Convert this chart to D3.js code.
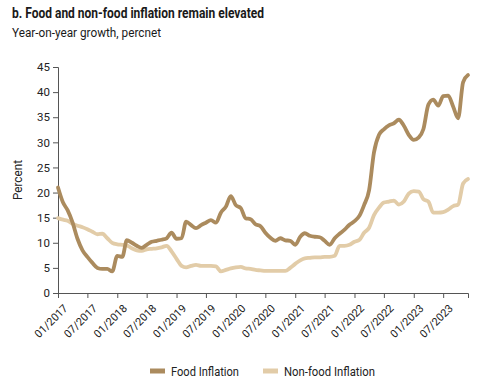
<!DOCTYPE html>
<html>
<head>
<meta charset="utf-8">
<script src="https://cdn.jsdelivr.net/npm/d3@7"></script>
<style>
  body { margin: 0; background: #fff; }
  svg { display: block; font-family: Roboto, "Liberation Sans", sans-serif; }
</style>
</head>
<body>
<div id="chart-area"></div>
<script>
// Monthly data, 01/2017 .. 12/2023
let startYear = 2017;

let foodInflation = [
	21.0, 18.0, 16.5, 14.0, 10.8, 8.5, 7.2, 6.0, 5.0, 4.8, 4.8, 4.3,
	7.4, 7.2, 10.5, 10.0, 9.4, 9.0, 9.6, 10.2, 10.4, 10.6, 10.9, 12.0,
	10.8, 10.9, 14.2, 13.5, 12.9, 13.5, 14.0, 14.5, 14.0, 16.0, 17.2, 19.3,
	17.5, 16.9, 14.9, 14.7, 13.7, 13.3, 12.0, 11.0, 10.4, 10.9, 10.5, 10.4,
	9.6, 11.2, 11.9, 11.4, 11.2, 11.1, 10.4, 9.6, 10.9, 11.8, 12.6, 13.6,
	14.3, 15.4, 17.5, 20.5, 28.0, 31.5, 32.6, 33.4, 33.8, 34.5, 33.3, 31.5,
	30.5, 31.0, 32.6, 37.5, 38.5, 37.3, 39.2, 39.3, 37.1, 34.8, 42.0, 43.4
];

let nonFoodInflation = [
	14.9, 14.6, 14.4, 13.8, 13.4, 13.1, 12.7, 12.2, 11.7, 11.8, 10.9, 10.0,
	9.7, 9.6, 9.5, 8.9, 8.5, 8.4, 8.7, 8.8, 8.9, 9.1, 9.4, 8.3,
	6.8, 5.4, 5.1, 5.4, 5.6, 5.4, 5.4, 5.4, 5.3, 4.3, 4.6, 4.9,
	5.1, 5.2, 4.9, 4.8, 4.6, 4.5, 4.4, 4.4, 4.4, 4.4, 4.4, 5.0,
	5.8, 6.5, 6.9, 7.0, 7.1, 7.1, 7.2, 7.2, 7.4, 9.4, 9.4, 9.6,
	10.2, 10.6, 12.0, 13.0, 15.5, 17.0, 18.0, 18.2, 18.4, 17.6, 18.2, 19.8,
	20.3, 20.2, 18.7, 18.2, 16.0, 16.0, 16.1, 16.6, 17.3, 17.6, 21.8, 22.7
];

let yTicks = [0, 5, 10, 15, 20, 25, 30, 35, 40, 45];
let seriesNames = ["Food Inflation", "Non-food Inflation"];
let seriesColors = ["#ab8b5e", "#e2cca8"];

let width = 500, height = 389;
let margin = {top: 67, right: 32, bottom: 96, left: 58};

let svg = d3.select("#chart-area")
	.append("svg")
	.attr("width", width)
	.attr("height", height);

// Title and subtitle
svg.append("text")
	.attr("x", 12).attr("y", 18)
	.attr("font-size", 14).attr("font-weight", "bold").attr("fill", "#1a1a1a")
	.attr("textLength", 252).attr("lengthAdjust", "spacingAndGlyphs")
	.text("b. Food and non-food inflation remain elevated");

svg.append("text")
	.attr("x", 12).attr("y", 37)
	.attr("font-size", 12.5).attr("fill", "#1a1a1a")
	.attr("textLength", 149).attr("lengthAdjust", "spacingAndGlyphs")
	.text("Year-on-year growth, percnet");

let dates = foodInflation.map((d, i) => new Date(startYear, i, 1));

let x = d3.scaleTime()
	.domain([dates[0], dates[dates.length - 1]])
	.range([margin.left, width - margin.right]);

let y = d3.scaleLinear()
	.domain([0, 45])
	.range([height - margin.bottom, margin.top]);

let axisColor = "#555";

// X axis
let xTickValues = d3.range(0, 84, 6).map(i => new Date(startYear, i, 1));
let xAxis = d3.axisBottom(x)
	.tickValues(xTickValues)
	.tickSizeOuter(0)
	.tickSize(5)
	.tickFormat(d3.timeFormat("%m/%Y"));

let xGroup = svg.append("g")
	.attr("transform", "translate(0," + y(0) + ")")
	.call(xAxis);

xGroup.select(".domain").attr("stroke", axisColor);
xGroup.selectAll(".tick line").attr("stroke", axisColor);
xGroup.selectAll(".tick text")
	.attr("font-family", "Roboto, sans-serif")
	.attr("font-size", 11)
	.attr("fill", "#222")
	.attr("text-anchor", "end")
	.attr("dy", null)
	.attr("y", 0)
	.attr("transform", "translate(10,16) rotate(-45)");

// Y axis
let yAxis = d3.axisLeft(y)
	.tickValues(yTicks)
	.tickSizeOuter(0)
	.tickSize(5);

let yGroup = svg.append("g")
	.attr("transform", "translate(" + margin.left + ",0)")
	.call(yAxis);

yGroup.select(".domain").attr("stroke", axisColor);
yGroup.selectAll(".tick line").attr("stroke", axisColor);
yGroup.selectAll(".tick text")
	.attr("font-family", "Roboto, sans-serif")
	.attr("font-size", 11.5)
	.attr("fill", "#222")
	.attr("x", -8);

svg.append("text")
	.attr("transform", "translate(22," + 180 + ") rotate(-90)")
	.attr("text-anchor", "middle")
	.attr("font-size", 12)
	.attr("fill", "#222")
	.attr("textLength", 40).attr("lengthAdjust", "spacingAndGlyphs")
	.text("Percent");

// Lines
let line = d3.line()
	.x((d, i) => x(dates[i]))
	.y(d => y(d))
	.curve(d3.curveMonotoneX);

// non-food drawn first so food sits on top
[nonFoodInflation, foodInflation].forEach((series, k) => {
	svg.append("path")
		.datum(series)
		.attr("fill", "none")
		.attr("stroke", seriesColors[1 - k])
		.attr("stroke-width", 3.8)
		.attr("stroke-linejoin", "round")
		.attr("stroke-linecap", "round")
		.attr("d", line);
});

// Legend
let legendItems = [
	{x: 150, textLen: 68},
	{x: 263, textLen: 91}
];
let legendY = 371;

legendItems.forEach((item, i) => {
	svg.append("line")
		.attr("x1", item.x).attr("x2", item.x + 15)
		.attr("y1", legendY).attr("y2", legendY)
		.attr("stroke", seriesColors[i])
		.attr("stroke-width", 5);
	svg.append("text")
		.attr("x", item.x + 21).attr("y", legendY + 5)
		.attr("font-size", 13)
		.attr("fill", "#222")
		.attr("textLength", item.textLen).attr("lengthAdjust", "spacingAndGlyphs")
		.text(seriesNames[i]);
});
</script>
</body>
</html>
